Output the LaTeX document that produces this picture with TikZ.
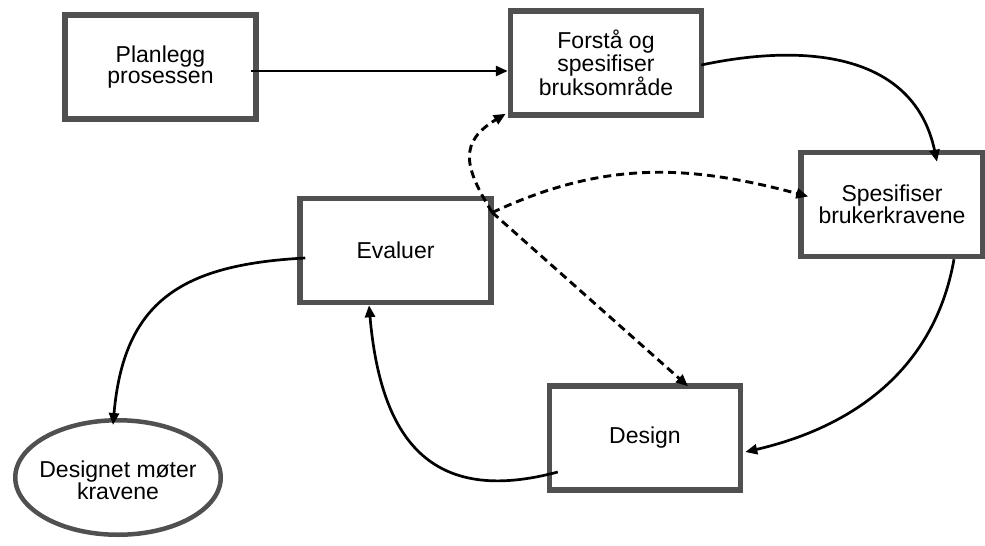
\documentclass[tikz,border=0pt]{standalone}
\usepackage{fontspec}
\setmainfont{Liberation Sans}
\usetikzlibrary{positioning,arrows.meta,calc,shapes.geometric}
\definecolor{boxgray}{RGB}{80,80,80}

\begin{document}
\begin{tikzpicture}[
  x=1pt, y=1pt,
  font=\fontsize{23}{21}\selectfont,
  box/.style={draw=boxgray, line width=5.5pt, minimum width=191pt, minimum height=104pt, align=center, fill=white},
  goal/.style={ellipse, draw=boxgray, line width=4.5pt, minimum width=205.5pt, minimum height=114.5pt},
  arr/.style={-{Triangle[length=12pt,width=10pt]}, line width=2.7pt},
  dasharr/.style={arr, line width=2.9pt, dash pattern=on 8pt off 5pt}
]
\useasboundingbox (0,0) rectangle (985,-546);

% ---------- Process steps ----------
\node[box] (plan)    at (160.5,-67)  {Planlegg\\prosessen};
\node[box] (forsta)  at (606,-63)    {Forstå og\\spesifiser\\bruksområde};
\node[box, minimum width=182pt] (spes) at (892,-204.5) {Spesifiser\\brukerkravene};
\node[box] (evaluer) at (395.5,-250.5) {Evaluer};
\node[box] (design)  at (645,-438)   {Design};

% ---------- End state ----------
\node[goal] (ferdig) at (118,-477.5) {};
\node[align=center] (ferdigtxt) at ($(ferdig)+(0,-3)$) {Designet møter\\kravene};

% ---------- Main cycle ----------
\draw[arr] ([xshift=-8pt,yshift=-4pt]plan.east) -- ([yshift=-4pt]plan.east -| forsta.west);
\draw[arr] ([xshift=-3pt,yshift=-2pt]forsta.east) to[out=12, in=102, looseness=1.1] ([xshift=45pt,yshift=-12pt]spes.north);
\draw[arr] ([xshift=62pt]spes.south) to[out=-100, in=13] ([xshift=2pt,yshift=-14pt]design.east);
\draw[arr] ([xshift=11pt,yshift=-34pt]design.west) to[out=195, in=-85, looseness=1.35] ([xshift=-26.5pt]evaluer.south);
\draw[arr] ([xshift=8pt,yshift=-7.5pt]evaluer.west) to[out=183, in=85, looseness=1.25] ([xshift=-5pt,yshift=-7pt]ferdig.north);

% ---------- Iterations back from evaluation ----------
\coordinate (split) at ([xshift=-1.5pt,yshift=38pt]evaluer.east);
\draw[dasharr] (split) to[out=122, in=211, looseness=1.4] ([xshift=-2pt,yshift=4pt]forsta.south west);
\draw[dasharr] (split) to[out=25, in=165] ([xshift=10pt,yshift=8pt]spes.west);
\draw[dasharr] (split) -- ([xshift=43pt,yshift=-3pt]design.north);

\end{tikzpicture}
\end{document}
